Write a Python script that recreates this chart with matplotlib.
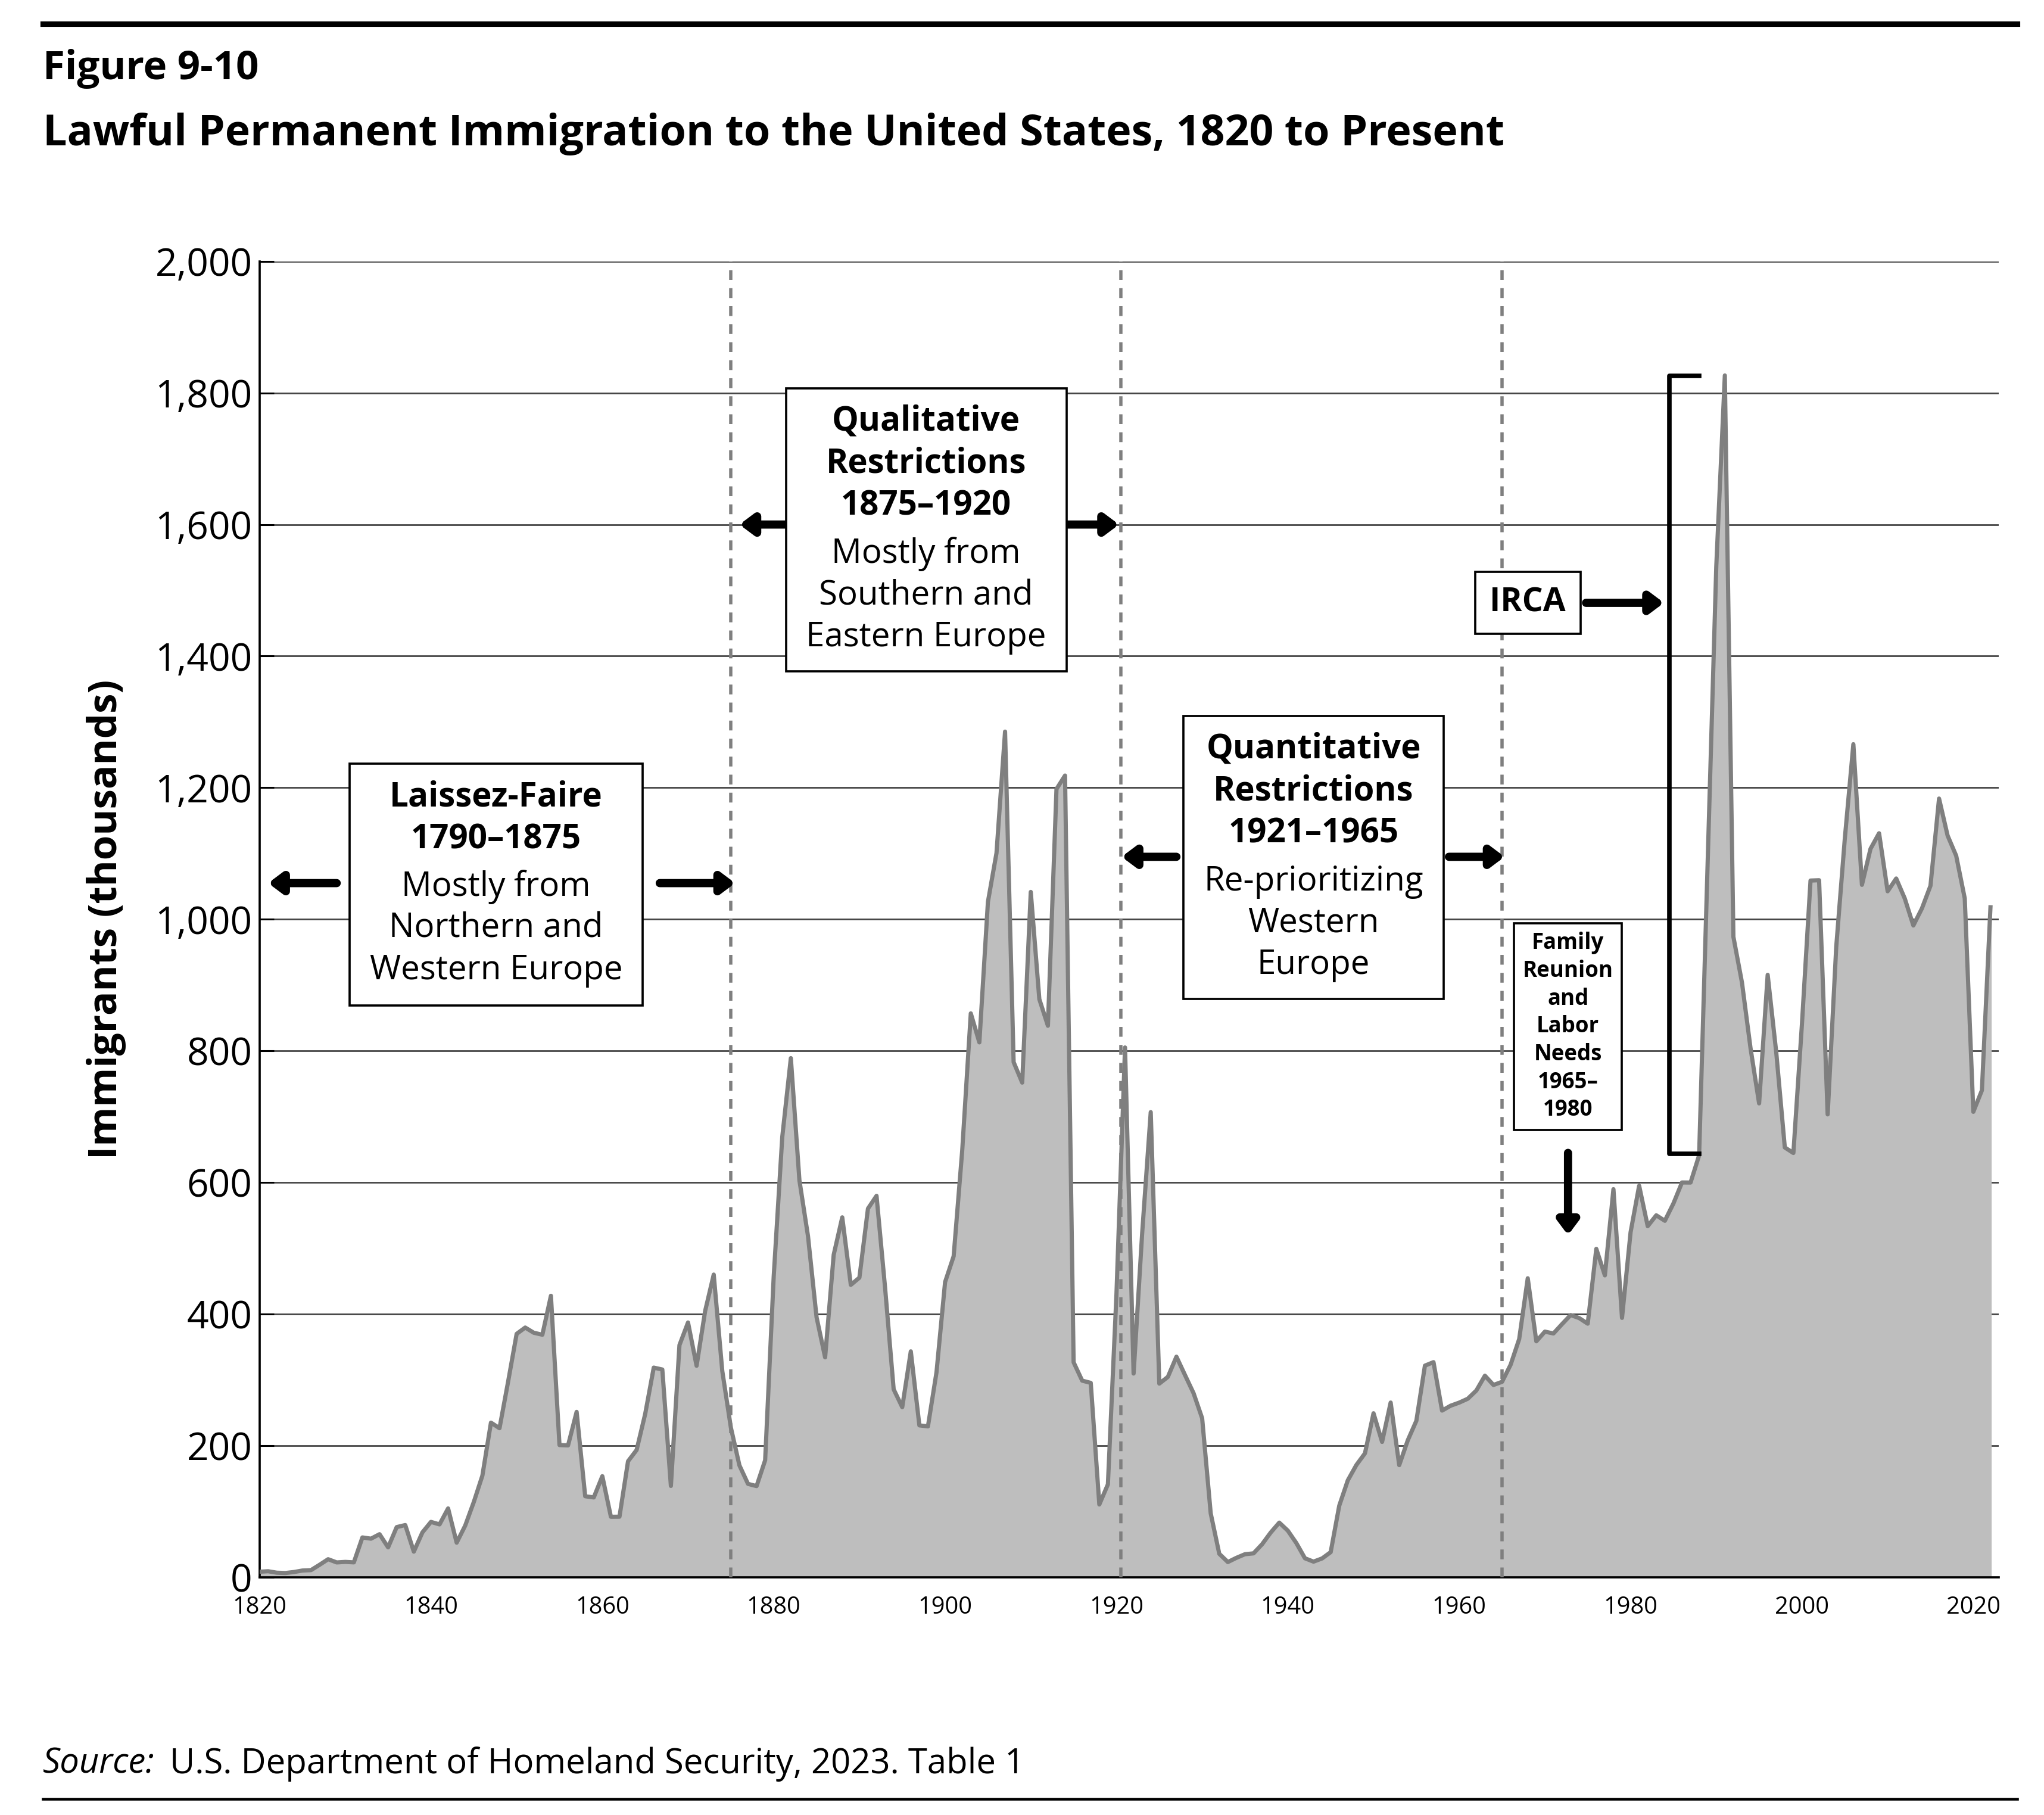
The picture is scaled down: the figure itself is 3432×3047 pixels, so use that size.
import numpy as np
import matplotlib.pyplot as plt
from matplotlib.lines import Line2D

plt.rcParams['font.family'] = ['Open Sans', 'DejaVu Sans']

years = np.arange(1820, 2023)
immigrants = [
    8.4, 9.1, 6.9, 6.4, 7.9, 10.2, 10.8, 18.9, 27.4, 22.5,
    23.3, 22.6, 60.5, 58.6, 65.4, 45.4, 76.2, 79.3, 38.9, 68.1,
    84.1, 80.3, 104.6, 52.5, 78.6, 114.4, 154.4, 235.0, 226.5, 297.0,
    369.9, 379.5, 371.6, 368.6, 427.8, 200.9, 200.4, 251.3, 123.1, 121.3,
    153.6, 91.9, 92.0, 176.3, 193.4, 248.1, 318.6, 315.7, 138.8, 352.8,
    387.2, 321.4, 404.8, 460.0, 313.3, 227.5, 170.0, 141.9, 138.5, 177.8,
    457.3, 669.4, 789.0, 603.3, 518.6, 395.3, 334.2, 490.1, 547.0, 444.4,
    455.3, 560.3, 579.7, 439.7, 285.6, 258.5, 343.3, 230.8, 229.3, 311.7,
    448.6, 487.9, 648.7, 857.0, 812.9, 1026.5, 1100.7, 1285.3, 782.9, 751.8,
    1041.6, 878.6, 838.2, 1197.9, 1218.5, 326.7, 298.8, 295.4, 110.6, 141.1,
    430.0, 805.2, 309.6, 522.9, 706.9, 294.3, 304.5, 335.2, 307.3, 279.7,
    241.7, 97.1, 35.6, 23.1, 29.5, 35.0, 36.3, 50.2, 67.9, 83.0,
    70.8, 51.8, 28.8, 23.7, 28.6, 38.1, 108.7, 147.3, 170.6, 188.3,
    249.2, 205.7, 265.5, 170.4, 208.2, 237.8, 321.6, 326.9, 253.3, 260.7,
    265.4, 271.3, 283.8, 306.3, 292.2, 297.0, 323.0, 362.0, 454.4, 358.6,
    373.3, 370.5, 384.7, 398.5, 393.9, 385.4, 499.1, 458.8, 589.8, 394.2,
    524.3, 595.0, 533.6, 550.1, 541.8, 568.1, 600.0, 599.9, 641.3, 1090.2,
    1535.9, 1826.6, 973.4, 903.9, 804.0, 720.2, 915.6, 797.8, 653.2, 644.8,
    841.0, 1058.9, 1059.4, 703.5, 957.9, 1122.3, 1266.1, 1052.4, 1107.1, 1130.8,
    1042.6, 1062.0, 1031.6, 990.6, 1016.5, 1051.0, 1183.5, 1127.2, 1096.6, 1031.8,
    707.4, 740.0, 1018.3,
]
era_breaks = [1875, 1920.5, 1965]

fig = plt.figure(figsize=(15.6, 13.85), dpi=220)
ax = fig.add_axes([0.127, 0.131, 0.851, 0.725])

ax.fill_between(years, 0, immigrants, color='#bebebe', zorder=2)
ax.plot(years, immigrants, color='#7f7f7f', lw=2.3, zorder=3)
for x in era_breaks:
    ax.axvline(x, color='#7f7f7f', lw=1.8, ls=(0, (3, 2.5)), zorder=4)

ax.set_xlim(1820, 2023)
ax.set_ylim(0, 2000)
ax.set_yticks(range(0, 2001, 200))
ax.set_yticklabels([f'{v:,}' for v in range(0, 2001, 200)], fontsize=21)
ax.set_xticks(range(1820, 2021, 20))
ax.tick_params(axis='x', labelsize=13, length=0, pad=10)
ax.tick_params(axis='y', length=8, width=1, pad=4, direction='in')
ax.grid(axis='y', color='#444444', lw=0.9, zorder=1)
for s in ['top', 'right']:
    ax.spines[s].set_visible(False)
ax.spines['left'].set_linewidth(1.2)
ax.spines['bottom'].set_linewidth(1.2)
ax.set_ylabel('Immigrants (thousands)', fontsize=22, fontweight='bold', labelpad=16)

FS = 18.5
LH = 67  # one text line in data units
box = dict(boxstyle='square,pad=0.6', fc='white', ec='black', lw=1.2)
arr = dict(arrowstyle='-|>,head_length=0.6,head_width=0.45', lw=4.5, color='black', shrinkA=0, shrinkB=0)


def arrow(x0, y0, x1, y1):
    ax.annotate('', xy=(x1, y1), xytext=(x0, y0), arrowprops=arr, zorder=6)


def era_box(cx, cy, bold, plain):
    n_b, n_p = len(bold.split('\n')), len(plain.split('\n'))
    n = n_b + n_p
    ax.text(cx, cy, bold + '\n' + plain, ha='center', va='center', fontsize=FS,
            linespacing=1.3, bbox=box, zorder=7, color='none')
    ax.text(cx, cy + LH * (n - n_b) / 2, bold, ha='center', va='center', fontsize=FS,
            fontweight='bold', linespacing=1.3, zorder=8)
    ax.text(cx, cy - LH * (n - n_p) / 2, plain, ha='center', va='center', fontsize=FS,
            linespacing=1.3, zorder=8)


era_box(1847.6, 1053, 'Laissez-Faire\n1790–1875', 'Mostly from\nNorthern and\nWestern Europe')
arrow(1829, 1055, 1821, 1055)
arrow(1866.7, 1055, 1875.5, 1055)

era_box(1897.8, 1592, 'Qualitative\nRestrictions\n1875–1920', 'Mostly from\nSouthern and\nEastern Europe')
arrow(1882, 1600, 1876, 1600)
arrow(1913.7, 1600, 1920.3, 1600)

era_box(1943, 1094, 'Quantitative\nRestrictions\n1921–1965', 'Re-prioritizing\nWestern\nEurope')
arrow(1927, 1095, 1920.6, 1095)
arrow(1958.8, 1095, 1965.3, 1095)

ax.text(1972.7, 837, 'Family\nReunion\nand\nLabor\nNeeds\n1965–\n1980', ha='center', va='center',
        fontsize=12, fontweight='bold', linespacing=1.3,
        bbox=dict(boxstyle='square,pad=0.4', fc='white', ec='black', lw=1.2), zorder=7)
arrow(1972.7, 645, 1972.7, 520)

ax.text(1968, 1481, 'IRCA', ha='center', va='center', fontsize=18, fontweight='bold',
        bbox=dict(boxstyle='square,pad=0.45', fc='white', ec='black', lw=1.2), zorder=7)
arrow(1974.8, 1481, 1983.9, 1481)
ax.plot([1988, 1984.5, 1984.5, 1988], [1826, 1826, 644, 644], color='black', lw=2.5,
        zorder=6, clip_on=False)

fig.add_artist(Line2D([0.021, 0.987], [0.987, 0.987], color='black', lw=3))
fig.add_artist(Line2D([0.021, 0.987], [0.009, 0.009], color='black', lw=1.5))
fig.text(0.021, 0.962, 'Figure 9-10', fontsize=22, fontweight='bold', va='center')
fig.text(0.021, 0.926, 'Lawful Permanent Immigration to the United States, 1820 to Present',
         fontsize=23.5, fontweight='bold', va='center')
fig.text(0.021, 0.028, 'Source:', fontsize=19, style='italic', va='center')
fig.text(0.083, 0.028, 'U.S. Department of Homeland Security, 2023. Table 1', fontsize=19, va='center')

fig.savefig('out.png', dpi=220)
